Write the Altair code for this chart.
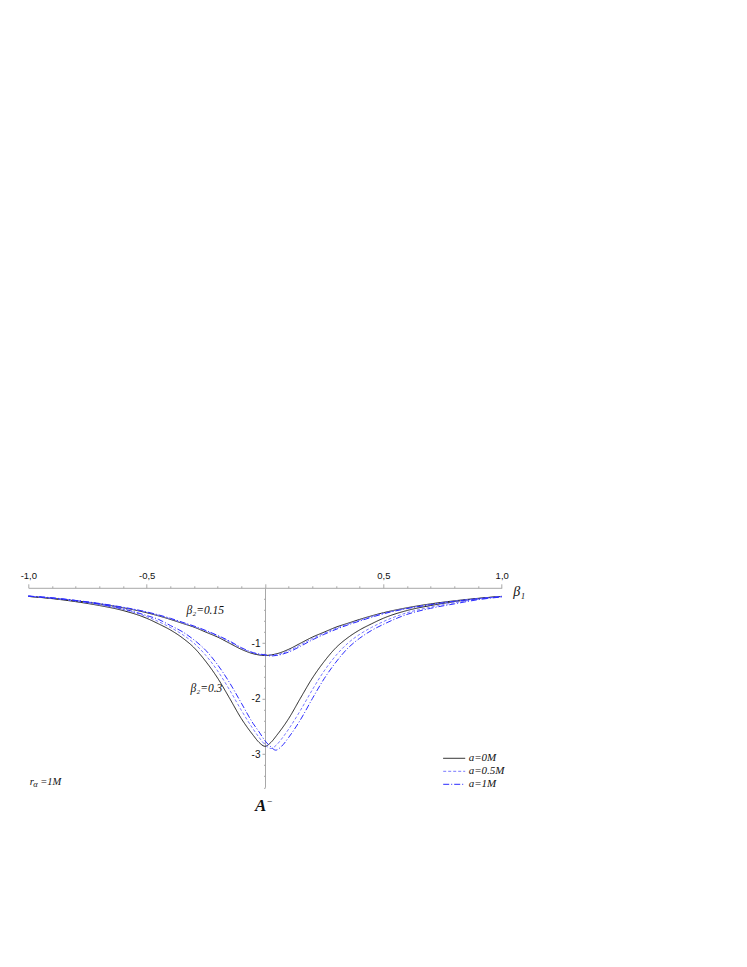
import altair as alt
import pandas as pd

# ---------------- data ----------------
# beta2 = 0.3 family
X30_A0 = [-1, -0.9, -0.8, -0.7, -0.6, -0.5, -0.45, -0.4, -0.35, -0.3, -0.25, -0.2, -0.15, -0.1, -0.05, -0.025,
          0, 0.025, 0.05, 0.1, 0.15, 0.2, 0.25, 0.3, 0.35, 0.4, 0.45, 0.5, 0.6, 0.7, 0.8, 0.9, 1.0]
Y30_A0 = [-0.155, -0.195, -0.25, -0.32, -0.41, -0.55, -0.65, -0.76, -0.90, -1.08, -1.33, -1.63, -1.99, -2.36,
          -2.66, -2.79, -2.86, -2.79, -2.66, -2.36, -1.99, -1.63, -1.33, -1.08, -0.90, -0.76, -0.65, -0.55,
          -0.41, -0.32, -0.25, -0.195, -0.155]

X30_A05 = [-1, -0.9, -0.8, -0.7, -0.6, -0.5, -0.45, -0.4, -0.35, -0.3, -0.25, -0.2, -0.15, -0.1, -0.05, -0.025,
           0, 0.025, 0.05, 0.075, 0.1, 0.15, 0.2, 0.25, 0.3, 0.35, 0.4, 0.45, 0.5, 0.6, 0.7, 0.8, 0.9, 1.0]
Y30_A05 = [-0.15, -0.186, -0.24, -0.305, -0.39, -0.52, -0.61, -0.715, -0.84, -1.00, -1.22, -1.50, -1.84, -2.21,
           -2.55, -2.70, -2.83, -2.90, -2.83, -2.70, -2.55, -2.21, -1.84, -1.50, -1.22, -1.00, -0.84, -0.715,
           -0.61, -0.45, -0.35, -0.27, -0.205, -0.16]

X30_A1 = [-1, -0.9, -0.8, -0.7, -0.6, -0.5, -0.45, -0.4, -0.35, -0.3, -0.25, -0.2, -0.15, -0.1, -0.05, -0.025,
          0, 0.025, 0.045, 0.07, 0.1, 0.15, 0.2, 0.25, 0.3, 0.35, 0.4, 0.45, 0.5, 0.6, 0.7, 0.8, 0.9, 1.0]
Y30_A1 = [-0.15, -0.18, -0.23, -0.295, -0.38, -0.50, -0.57, -0.68, -0.79, -0.94, -1.13, -1.39, -1.71, -2.08,
          -2.45, -2.60, -2.76, -2.87, -2.93, -2.86, -2.70, -2.38, -2.00, -1.64, -1.34, -1.09, -0.91, -0.77,
          -0.66, -0.48, -0.37, -0.29, -0.215, -0.165]

# beta2 = 0.15 family
X15_A0 = [-1, -0.9, -0.8, -0.7, -0.6, -0.5, -0.4, -0.35, -0.3, -0.25, -0.2, -0.15, -0.1, -0.05, 0,
          0.05, 0.1, 0.15, 0.2, 0.25, 0.3, 0.35, 0.4, 0.5, 0.6, 0.7, 0.8, 0.9, 1.0]
Y15_A0 = [-0.155, -0.19, -0.235, -0.29, -0.36, -0.45, -0.57, -0.64, -0.71, -0.80, -0.89, -1.00, -1.11, -1.19,
          -1.22, -1.19, -1.11, -1.00, -0.89, -0.80, -0.71, -0.64, -0.57, -0.45, -0.36, -0.29, -0.235, -0.19,
          -0.155]

X15_A05 = [-1, -0.9, -0.8, -0.7, -0.6, -0.5, -0.4, -0.35, -0.3, -0.25, -0.2, -0.15, -0.1, -0.05, 0,
           0.05, 0.1, 0.15, 0.2, 0.25, 0.3, 0.35, 0.4, 0.5, 0.6, 0.7, 0.8, 0.9, 1.0]
Y15_A05 = [-0.15, -0.187, -0.23, -0.285, -0.355, -0.44, -0.56, -0.63, -0.70, -0.78, -0.87, -0.975, -1.09,
           -1.175, -1.215, -1.205, -1.135, -1.03, -0.915, -0.82, -0.73, -0.655, -0.585, -0.46, -0.37, -0.30,
           -0.24, -0.195, -0.157]

X15_A1 = [-1, -0.9, -0.8, -0.7, -0.6, -0.5, -0.4, -0.35, -0.3, -0.25, -0.2, -0.15, -0.1, -0.05, 0, 0.025,
          0.05, 0.1, 0.15, 0.2, 0.25, 0.3, 0.35, 0.4, 0.5, 0.6, 0.7, 0.8, 0.9, 1.0]
Y15_A1 = [-0.15, -0.185, -0.228, -0.282, -0.35, -0.435, -0.55, -0.62, -0.69, -0.77, -0.86, -0.96, -1.08,
          -1.17, -1.21, -1.23, -1.22, -1.16, -1.055, -0.94, -0.84, -0.75, -0.67, -0.60, -0.47, -0.375,
          -0.305, -0.245, -0.198, -0.16]

SERIES_LABELS = ["a=0M", "a=0.5M", "a=1M"]
SERIES_COLORS = ["#1e1e1e", "#7878ff", "#2a2aff"]
SERIES_DASHES = [[1, 0], [3, 2], [6, 2, 1, 2]]

X_TICKS = [-1.0, -0.9, -0.8, -0.7, -0.6, -0.5, -0.4, -0.3, -0.2, -0.1, 0.0,
           0.1, 0.2, 0.3, 0.4, 0.5, 0.6, 0.7, 0.8, 0.9, 1.0]
Y_TICKS = [-3.6, -3.4, -3.2, -3.0, -2.8, -2.6, -2.4, -2.2, -2.0, -1.8, -1.6, -1.4,
           -1.2, -1.0, -0.8, -0.6, -0.4, -0.2]

# annotations (data coordinates)
BETA_LABELS = ["β₂=0.15", "β₂=0.3"]
BETA_X = [-0.332, -0.315]
BETA_Y = [-0.473, -1.88]

# ---------------- build tables ----------------
rows = []
groups = [
    ("0.3", 0, X30_A0, Y30_A0), ("0.15", 0, X15_A0, Y15_A0),
    ("0.3", 1, X30_A05, Y30_A05), ("0.15", 1, X15_A05, Y15_A05),
    ("0.3", 2, X30_A1, Y30_A1), ("0.15", 2, X15_A1, Y15_A1),
]
for k, (b2, si, xs, ys) in enumerate(groups):
    for i, (xv, yv) in enumerate(zip(xs, ys)):
        rows.append({"x": xv, "y": yv, "a": SERIES_LABELS[si],
                     "curve": f"{si}-{b2}", "ord": i})
df = pd.DataFrame(rows)

df_beta = pd.DataFrame({"x": BETA_X, "y": BETA_Y, "t": BETA_LABELS})
df_A = pd.DataFrame({"x": [-0.018], "y": [-4.02], "t": ["A"]})
df_Asup = pd.DataFrame({"x": [0.011], "y": [-3.885], "t": ["–"]})
df_r = pd.DataFrame({"x": [-0.994, -0.95], "y": [-3.55, -3.55], "t": ["r", "=1M"]})
df_alpha = pd.DataFrame({"x": [-0.979], "y": [-3.60], "t": ["α"]})

# ---------------- styling ----------------
W, H = 473.4, 199.5
SERIF = "Liberation Serif"
SANS = "Liberation Sans"
GRAY = "#a8a8a8"

x_scale = alt.Scale(domain=[-1, 1], nice=False, zero=False)
y_scale = alt.Scale(domain=[-3.6, 0], nice=False, zero=False)

x_axis = alt.Axis(
    orient="top", values=X_TICKS, grid=False,
    title="β₁", titleFont=SERIF, titleFontStyle="italic", titleFontWeight="normal",
    titleFontSize=14, titleColor="#111", titleX=W + 11, titleY=4, titleAlign="left",
    titleBaseline="middle", titleAngle=0,
    domainColor=GRAY, domainWidth=1, tickColor=GRAY, tickWidth=1,
    tickSize={"condition": {"test": "abs(datum.value*2 - round(datum.value*2)) < 0.01", "value": 4},
              "value": 2},
    labelExpr="abs(datum.value*2 - round(datum.value*2)) < 0.01 && abs(datum.value) > 0.01 ? "
              "replace((datum.value < 0 ? '-' : '') + format(abs(datum.value), '.1f'), '.', ',') : ''",
    labelFont=SANS, labelFontSize=9.5, labelColor="#111", labelPadding=3,
    labelFlush=False, labelOverlap=False,
)
y_axis = alt.Axis(
    orient="left", offset=-W / 2, values=Y_TICKS, grid=False, title=None,
    domainColor=GRAY, domainWidth=1, tickColor=GRAY, tickWidth=1,
    tickSize={"condition": {"test": "abs(datum.value - round(datum.value)) < 0.01", "value": 3},
              "value": 1.5},
    labelExpr="abs(datum.value - round(datum.value)) < 0.01 && abs(datum.value) > 0.01 ? "
              "'-' + format(abs(datum.value), 'd') : ''",
    labelFont=SANS, labelFontSize=10, labelColor="#111", labelPadding=2,
    labelFlush=False, labelOverlap=False,
)

X = alt.X("x:Q", scale=x_scale, axis=x_axis)
Y = alt.Y("y:Q", scale=y_scale, axis=y_axis)

leg = dict(title=None, orient="none", legendX=414.4, legendY=164.25, symbolType="stroke",
           symbolSize=484, symbolStrokeWidth=1, clipHeight=12.5, rowPadding=0, padding=0,
           labelFont=SERIF, labelFontStyle="italic", labelFontSize=11, labelOffset=3,
           labelColor="#111")

lines = alt.Chart(df).mark_line(strokeWidth=1, interpolate="monotone", clip=False).encode(
    x=X, y=Y,
    color=alt.Color("a:N", scale=alt.Scale(domain=SERIES_LABELS, range=SERIES_COLORS),
                    legend=alt.Legend(**leg), sort=SERIES_LABELS),
    strokeDash=alt.StrokeDash("a:N", scale=alt.Scale(domain=SERIES_LABELS, range=SERIES_DASHES),
                              legend=alt.Legend(**leg), sort=SERIES_LABELS),
    detail="curve:N",
    order="ord:Q",
)

beta_txt = alt.Chart(df_beta).mark_text(
    align="left", baseline="alphabetic", font=SERIF, fontStyle="italic", fontSize=11.5, color="#111"
).encode(x=X, y=Y, text="t:N")

a_txt = alt.Chart(df_A).mark_text(
    align="center", baseline="alphabetic", font=SERIF, fontStyle="italic", fontWeight="bold",
    fontSize=17, color="#111"
).encode(x=X, y=Y, text="t:N")

a_sup = alt.Chart(df_Asup).mark_text(
    align="left", baseline="alphabetic", font=SANS, fontSize=8, color="#111"
).encode(x=X, y=Y, text="t:N")

r_txt = alt.Chart(df_r).mark_text(
    align="left", baseline="alphabetic", font=SERIF, fontStyle="italic", fontSize=10.5, color="#111"
).encode(x=X, y=Y, text="t:N")

alpha_txt = alt.Chart(df_alpha).mark_text(
    align="left", baseline="alphabetic", font=SERIF, fontStyle="italic", fontSize=8.5, color="#111"
).encode(x=X, y=Y, text="t:N")

chart = alt.layer(lines, beta_txt, a_txt, a_sup, r_txt, alpha_txt).properties(
    width=W, height=H,
    autosize=alt.AutoSizeParams(type="none"),
    padding={"left": 20.3, "top": 579.8, "right": 237.3, "bottom": 100},
).configure_view(stroke="transparent")

chart.save("out.html", embed_options={"renderer": "svg", "actions": False})
